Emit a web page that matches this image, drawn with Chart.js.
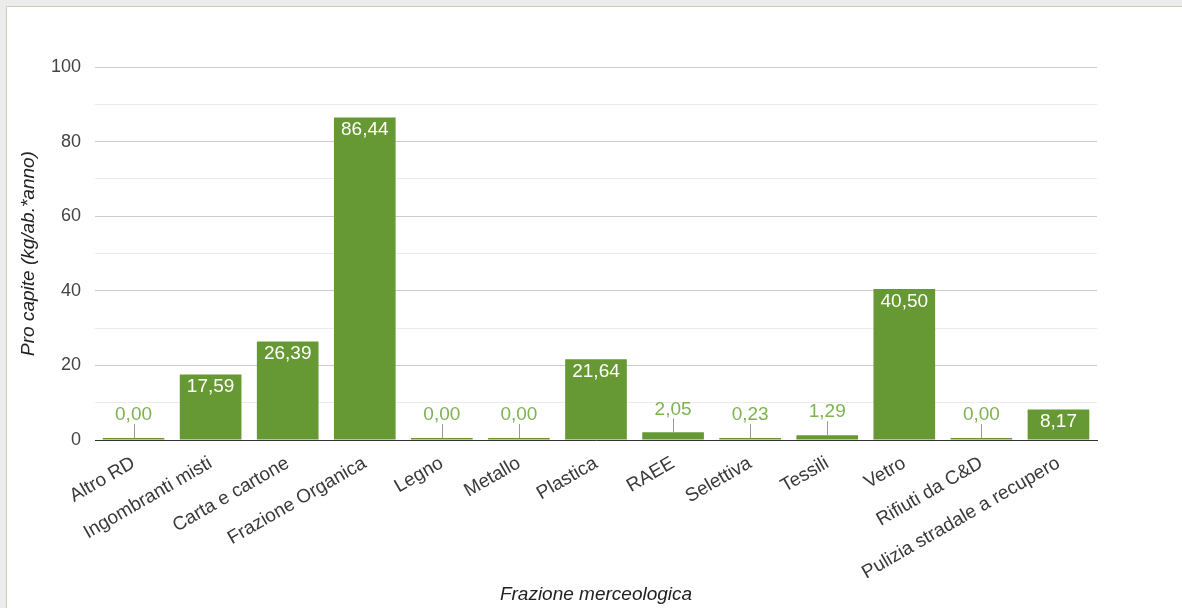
<!DOCTYPE html>
<html lang="it">
<head>
<meta charset="utf-8">
<title>Pro capite per frazione merceologica</title>
<script src="https://cdn.jsdelivr.net/npm/chart.js@4.4.1/dist/chart.umd.min.js"></script>
<style>
  html, body { margin: 0; padding: 0; }
  body { width: 1182px; height: 608px; overflow: hidden; background: #ececec; position: relative; }
  .box { position: absolute; left: 6px; top: 6px; width: 1300px; height: 700px; background: #fff; border: 1px solid #c6d1b6; }
  #chart { position: absolute; left: 0; top: 0; }
</style>
</head>
<body>
<div class="box"></div>
<canvas id="chart" width="1182" height="608"></canvas>
<script>
// ----- data -----
var categorie = ["Altro RD", "Ingombranti misti", "Carta e cartone", "Frazione Organica", "Legno", "Metallo",
  "Plastica", "RAEE", "Selettiva", "Tessili", "Vetro", "Rifiuti da C&D", "Pulizia stradale a recupero"];
var proCapite = [0.00, 17.59, 26.39, 86.44, 0.00, 0.00, 21.64, 2.05, 0.23, 1.29, 40.50, 0.00, 8.17];
var yTicks = [0, 20, 40, 60, 80, 100];

var verde = "#669933";
var verdeChiaro = "#7db350";
var font = "'Liberation Sans', Arial, sans-serif";

// numbers with comma as decimal separator
function formatta(v) {
  return v.toFixed(2).replace(".", ",");
}

// value labels: inside the bar when it fits, otherwise above with a small stem
var etichette = {
  id: "etichette",
  afterDatasetsDraw: function(chart) {
    var ctx = chart.ctx;
    var meta = chart.getDatasetMeta(0);
    ctx.save();
    ctx.font = "19px " + font;
    ctx.textAlign = "center";
    meta.data.forEach(function(bar, i) {
      var v = proCapite[i];
      var h = bar.base - bar.y;
      if (h >= 26) {
        ctx.fillStyle = "#ffffff";
        ctx.textBaseline = "top";
        ctx.fillText(formatta(v), bar.x, bar.y + 3);
      } else {
        var top = Math.min(bar.y, bar.base);
        ctx.strokeStyle = "#999999";
        ctx.lineWidth = 1;
        ctx.beginPath();
        ctx.moveTo(Math.round(bar.x) + 0.5, top);
        ctx.lineTo(Math.round(bar.x) + 0.5, top - 14);
        ctx.stroke();
        ctx.fillStyle = verdeChiaro;
        ctx.textBaseline = "middle";
        ctx.fillText(formatta(v), bar.x, top - 23);
      }
    });
    ctx.restore();
  }
};

var grafico = new Chart(document.getElementById("chart").getContext("2d"), {
  type: "bar",
  data: {
    labels: categorie,
    datasets: [{
      label: "Pro capite",
      data: proCapite,
      backgroundColor: verde,
      borderWidth: 0,
      categoryPercentage: 1,
      barPercentage: 0.8,
      minBarLength: 2
    }]
  },
  options: {
    responsive: false,
    animation: false,
    layout: { padding: { left: 13, right: 85, top: 67, bottom: 0 } },
    plugins: {
      legend: { display: false },
      tooltip: { enabled: false }
    },
    scales: {
      x: {
        grid: { display: false },
        border: { display: true, color: "#333333", width: 1 },
        ticks: {
          autoSkip: false,
          minRotation: 30,
          maxRotation: 30,
          padding: 4,
          color: "#3a3a3a",
          font: { family: font, size: 19 }
        },
        title: {
          display: true,
          text: "Frazione merceologica",
          color: "#222222",
          padding: { top: 3, bottom: 2 },
          font: { family: font, size: 19, style: "italic" }
        },
        afterFit: function(scale) { scale.height = 168; }
      },
      y: {
        min: 0,
        max: 100,
        border: { display: false },
        grid: {
          drawTicks: false,
          color: function(c) {
            return c.tick.value % 20 === 0 ? "#cccccc" : "#ebebeb";
          }
        },
        ticks: {
          stepSize: 10,
          padding: 14,
          color: "#444444",
          font: { family: font, size: 18 },
          callback: function(value) {
            return yTicks.indexOf(value) >= 0 ? value : "";
          }
        },
        title: {
          display: true,
          text: "Pro capite (kg/ab.*anno)",
          color: "#222222",
          padding: { top: 4, bottom: 4 },
          font: { family: font, size: 19, style: "italic" }
        },
        afterFit: function(scale) { scale.width = 82; }
      }
    }
  },
  plugins: [etichette]
});
</script>
</body>
</html>
